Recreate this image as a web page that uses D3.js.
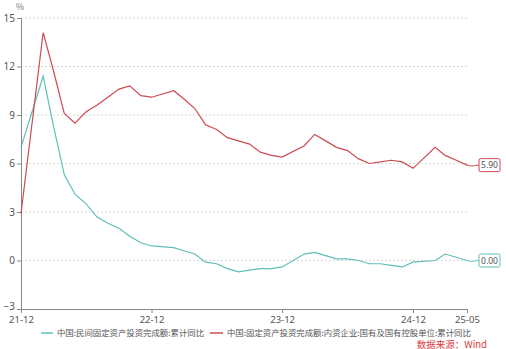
<!DOCTYPE html>
<html><head><meta charset="utf-8">
<script src="https://cdn.jsdelivr.net/npm/d3@7/dist/d3.min.js"></script>
<style>
html,body{margin:0;padding:0;background:#fff;}
svg{display:block;font-family:"Noto Sans CJK SC","Noto Sans",sans-serif;}
</style></head>
<body><svg id="c" width="506" height="349"></svg>
<script>
const months = ["2021-12","2022-02","2022-03","2022-04","2022-05","2022-06","2022-07","2022-08","2022-09","2022-10","2022-11","2022-12",
"2023-02","2023-03","2023-04","2023-05","2023-06","2023-07","2023-08","2023-09","2023-10","2023-11","2023-12",
"2024-02","2024-03","2024-04","2024-05","2024-06","2024-07","2024-08","2024-09","2024-10","2024-11","2024-12",
"2025-02","2025-03","2025-04","2025-05"];
const privateFAI = [7.0,11.4,8.4,5.3,4.1,3.5,2.7,2.3,2.0,1.5,1.1,0.9,
0.8,0.6,0.4,-0.1,-0.2,-0.5,-0.7,-0.6,-0.5,-0.5,-0.4,
0.4,0.5,0.3,0.1,0.1,0.0,-0.2,-0.2,-0.3,-0.4,-0.1,
0.0,0.4,0.2,0.0];
const stateFAI = [2.9,14.1,11.8,9.1,8.5,9.2,9.6,10.1,10.6,10.8,10.2,10.1,
10.5,10.0,9.4,8.4,8.1,7.6,7.4,7.2,6.7,6.5,6.4,
7.1,7.8,7.4,7.0,6.8,6.3,6.0,6.1,6.2,6.1,5.7,
7.0,6.5,6.2,5.9];
const yTicks = [-3,0,3,6,9,12,15];
const xTickLabels = ["21-12","22-12","23-12","24-12","25-05"];
const seriesNames = ["中国:民间固定资产投资完成额:累计同比","中国:固定资产投资完成额:内资企业:国有及国有控股单位:累计同比"];
const endLabels = ["0.00","5.90"];
const colors = ["#5fbfb8","#cc4b52"];

const svg = d3.select("#c");
const parse = d3.timeParse("%Y-%m");
const dates = months.map(parse);
const x = d3.scaleTime().domain([parse("2021-12"), parse("2025-05")]).range([21, 467]);
const y = d3.scaleLinear().domain([-3, 15]).range([309, 18]);

// grid
svg.append("g").selectAll("line").data(yTicks.filter(v=>v>-3)).join("line")
  .attr("x1",21).attr("x2",467).attr("y1",d=>y(d)).attr("y2",d=>y(d))
  .attr("stroke","#d8d8d8").attr("stroke-width",1).attr("stroke-dasharray","2,2");

// y axis
const ya = svg.append("g").attr("transform","translate(21,0)")
  .call(d3.axisLeft(y).tickValues(yTicks).tickSize(4).tickPadding(2).tickFormat(d3.format("d")));
ya.select(".domain").attr("stroke","#888");
ya.selectAll(".tick line").attr("stroke","#888");
ya.selectAll("text").attr("fill","#555").attr("font-size",10).attr("font-family","Noto Sans, sans-serif");
ya.selectAll(".tick").filter(d=>d===-3).select("text").attr("y",-2.5);

// x axis
const xa = svg.append("g").attr("transform","translate(0,309)")
  .call(d3.axisBottom(x).tickValues(xTickLabels.map(s=>parse("20"+s))).tickSize(4).tickPadding(3)
    .tickFormat(d3.timeFormat("%y-%m")));
xa.select(".domain").attr("stroke","#888");
xa.selectAll(".tick line").attr("stroke","#888");
xa.selectAll("text").attr("fill","#555").attr("font-size",9.5).attr("font-family","Noto Sans, sans-serif");

svg.append("text").attr("x",20).attr("y",10).attr("text-anchor","middle")
  .attr("font-size",9).attr("fill","#777").text("%");

const line = d3.line().x((d,i)=>x(dates[i])).y(d=>y(d));
[privateFAI, stateFAI].forEach((s,k)=>{
  svg.append("path").datum(s).attr("d",line).attr("fill","none")
    .attr("stroke",colors[k]).attr("stroke-width",1.2);
  const lx = x(dates[dates.length-1]), ly = y(s[s.length-1]);
  const bx = 479;
  svg.append("path").attr("d",`M${lx},${ly} C${lx+6},${ly+2} ${bx-6},${ly} ${bx},${ly}`)
    .attr("fill","none").attr("stroke",colors[k]).attr("stroke-width",1);
  svg.append("rect").attr("x",bx).attr("y",ly-6.5).attr("width",21).attr("height",13)
    .attr("fill","#fff").attr("stroke",colors[k]).attr("stroke-width",1).attr("rx",1.5);
  svg.append("text").attr("x",bx+10.5).attr("y",ly+3).attr("text-anchor","middle")
    .attr("font-size",8.5).attr("fill","#555").attr("font-family","Noto Sans, sans-serif").text(endLabels[k]);
});

// legend
const leg = [{x1:41,x2:53,tx:57},{x1:210,x2:223,tx:227}];
leg.forEach((l,k)=>{
  svg.append("line").attr("x1",l.x1).attr("x2",l.x2).attr("y1",333).attr("y2",333)
    .attr("stroke",colors[k]).attr("stroke-width",1.5);
  svg.append("text").attr("x",l.tx).attr("y",336).attr("font-size",8.4).attr("fill","#555").text(seriesNames[k]);
});

svg.append("text").attr("x",487).attr("y",347.5).attr("text-anchor","end")
  .attr("font-size",9.5).attr("fill","#e0383e").text("数据来源：Wind");
</script></body></html>
